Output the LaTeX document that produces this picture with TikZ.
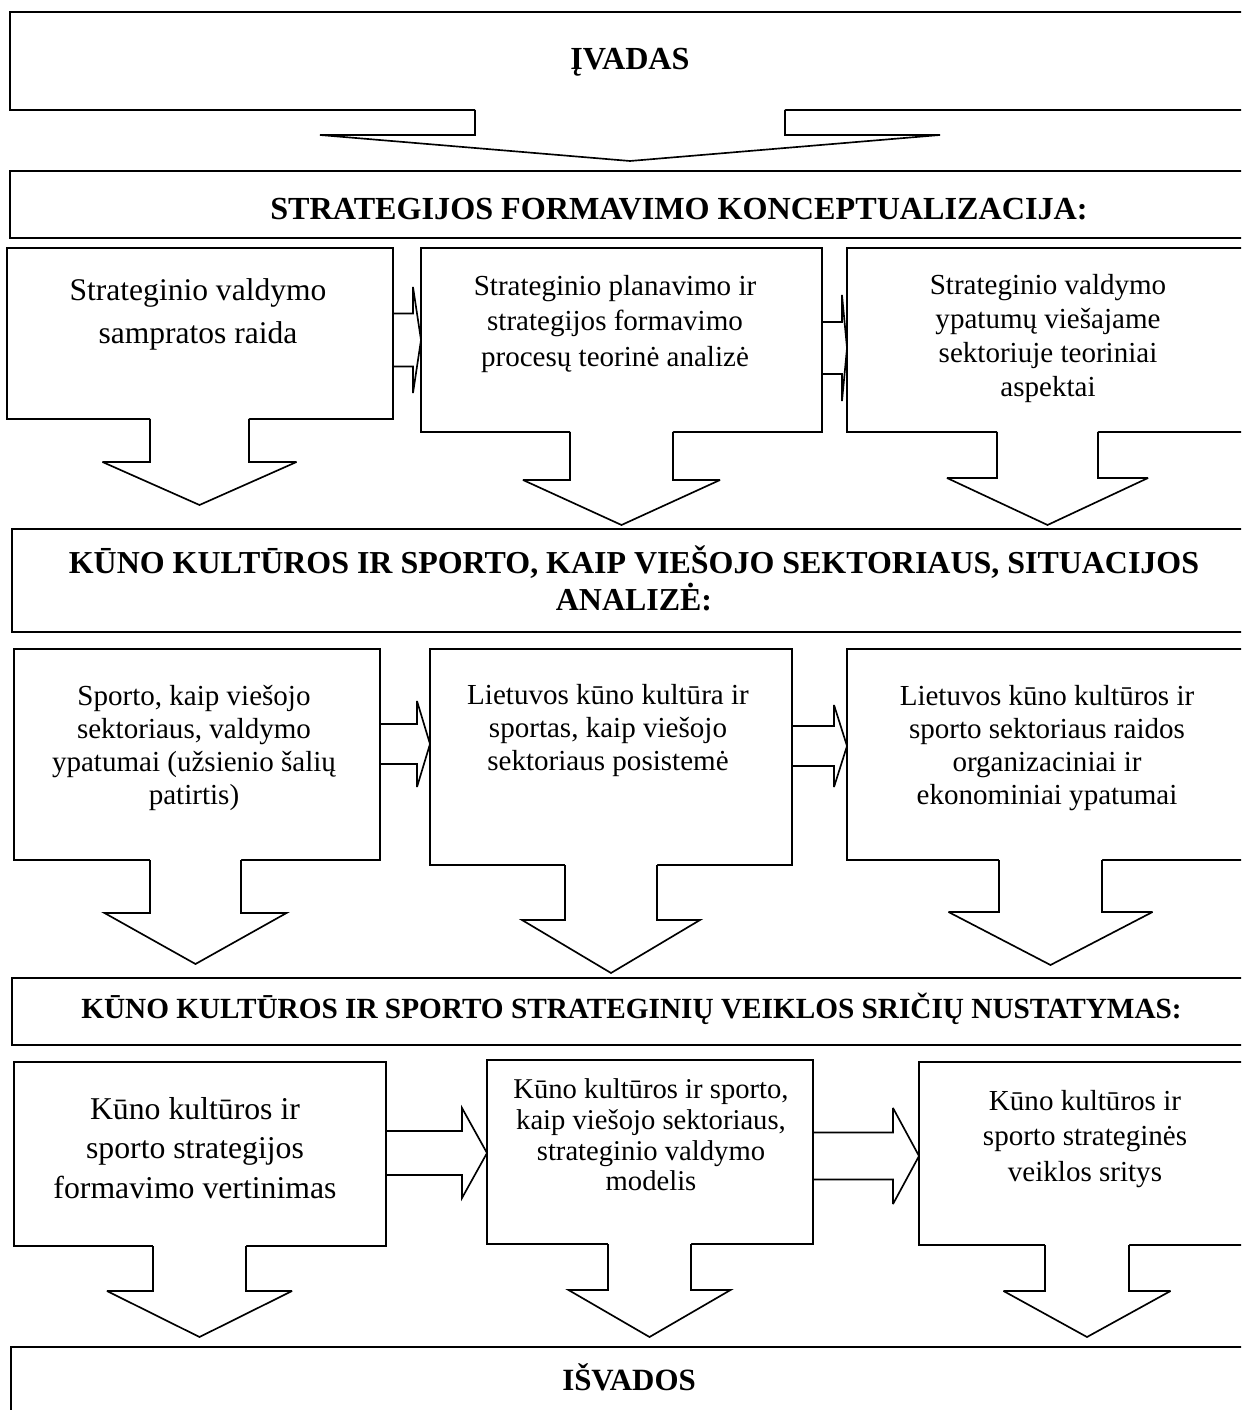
\documentclass[tikz,border=0pt]{standalone}
\usepackage{fontspec}
\setmainfont{Liberation Serif}
\usetikzlibrary{calc,fit}

% Block arrow pointing down out of the bottom edge of a box.
% #1 box, #2 x of the axis, #3 stem half width, #4 head half width,
% #5 stem length, #6 head length
\newcommand\dblock[6]{%
  \coordinate (dbx) at (#2,0);
  \coordinate (dbs) at (dbx |- #1.south);
  \fill[white] ($(dbs)+(-#3,-3)$) -- ($(dbs)+(-#3,#5)$) -- ($(dbs)+(-#4,#5)$)
    -- ($(dbs)+(0,#5+#6)$) -- ($(dbs)+(#4,#5)$) -- ($(dbs)+(#3,#5)$)
    -- ($(dbs)+(#3,-3)$) -- cycle;
  \draw[blk] ($(dbs)+(-#3,0)$) -- ($(dbs)+(-#3,#5)$) -- ($(dbs)+(-#4,#5)$)
    -- ($(dbs)+(0,#5+#6)$) -- ($(dbs)+(#4,#5)$) -- ($(dbs)+(#3,#5)$)
    -- ($(dbs)+(#3,0)$);
}

% Block arrow from the right edge of one box to the left edge of the next.
% #1 from box, #2 to box, #3 y of the axis, #4 stem half width,
% #5 head half width, #6 head length
\newcommand\rblock[6]{%
  \coordinate (rbm) at (0,#3);
  \coordinate (rb1) at (rbm -| #1.east);
  \coordinate (rb2) at (rbm -| #2.west);
  \draw[blk] ($(rb1)+(0,-#4)$) -- ($(rb2)+(-#6,-#4)$) -- ($(rb2)+(-#6,-#5)$)
    -- (rb2) -- ($(rb2)+(-#6,#5)$) -- ($(rb2)+(-#6,#4)$) -- ($(rb1)+(0,#4)$);
}

\begin{document}
\begin{tikzpicture}[x=0.016933cm, y=-0.016933cm,
  box/.style={draw, line width=0.8pt, rectangle, inner sep=0pt, outer sep=0pt, fill=white},
  headbox/.style={box, line width=1.1pt},
  blk/.style={line width=0.8pt, line join=miter, miter limit=4},
  txt/.style={align=center, inner sep=0pt},
  htxt/.style={txt, font=\fontsize{15.5}{18}\selectfont\bfseries},
]
\useasboundingbox (0,0) rectangle (1241,1410);
\clip (0,0) rectangle (1241,1410);
\fill[white] (0,0) rectangle (1241,1410);

% section headers
\node[headbox, fit={(10,12) (1250,110)}] (intro) {};
\node[headbox, fit={(10,171) (1250,238)}] (concept) {};
\node[headbox, fit={(12,529) (1250,632)}] (situation) {};
\node[headbox, fit={(12,978) (1250,1045)}] (areas) {};
\node[headbox, fit={(11,1347) (1250,1430)}] (concl) {};

% first row
\node[box, fit={(7,248) (393,419)}] (a1) {};
\node[box, fit={(421,248) (822,432)}] (a2) {};
\node[box, fit={(847,248) (1250,432)}] (a3) {};
% second row
\node[box, fit={(14,649) (380,860)}] (b1) {};
\node[box, fit={(430,649) (792,865)}] (b2) {};
\node[box, fit={(847,649) (1250,860)}] (b3) {};
% third row
\node[box, fit={(14,1062) (386,1246)}] (c1) {};
\node[box, fit={(487,1060) (813,1244)}] (c2) {};
\node[box, fit={(919,1062) (1250,1245)}] (c3) {};

% arrows between boxes of a row
\rblock{a1}{a2}{340}{26.5}{53}{8}
\rblock{a2}{a3}{348}{26}{53}{5}
\rblock{b1}{b2}{744}{20}{43}{13}
\rblock{b2}{b3}{746}{20}{41}{13}
\rblock{c1}{c2}{1153}{22}{45}{25}
\rblock{c2}{c3}{1156}{23.5}{48}{26}

% arrows down to the next header
\dblock{intro}{630}{155}{310}{25}{26}
\dblock{a1}{199.5}{49.5}{97}{43}{43}
\dblock{a2}{621.5}{51.5}{98.5}{48}{45}
\dblock{a3}{1047.5}{50.5}{100.5}{46}{47}
\dblock{b1}{195.5}{45.5}{91}{53}{51}
\dblock{b2}{611}{46}{89}{55}{53}
\dblock{b3}{1050.5}{51.5}{102}{52}{53}
\dblock{c1}{199.5}{46.5}{92.5}{45}{46}
\dblock{c2}{649.5}{41.5}{81}{46}{47}
\dblock{c3}{1087}{42}{83.5}{46}{46}

% header texts
\node[htxt] (tintro) at (630,62) {ĮVADAS};
\node[htxt] (tconcept) at (679,209) {STRATEGIJOS FORMAVIMO KONCEPTUALIZACIJA:};
\node[htxt, font=\fontsize{15.4}{17.8}\selectfont\bfseries] (tsituation) at (634,578)
  {KŪNO KULTŪROS IR SPORTO, KAIP VIEŠOJO SEKTORIAUS, SITUACIJOS\\ANALIZĖ:};
\node[htxt, font=\fontsize{14.1}{17}\selectfont\bfseries] (tareas) at (631.5,1009)
  {KŪNO KULTŪROS IR SPORTO STRATEGINIŲ VEIKLOS SRIČIŲ NUSTATYMAS:};
\node[htxt, font=\fontsize{14.9}{17}\selectfont\bfseries] (tconcl) at (629,1377) {IŠVADOS};

% box texts
\node[txt, font=\fontsize{15.2}{20.7}\selectfont] (ta1) at (198,314.5)
  {Strateginio valdymo\\sampratos raida};
\node[txt, font=\fontsize{14}{17.1}\selectfont] (ta2) at (615,324)
  {Strateginio planavimo ir\\strategijos formavimo\\procesų teorinė analizė};
\node[txt, font=\fontsize{14}{16.5}\selectfont] (ta3) at (1048,338.5)
  {Strateginio valdymo\\ypatumų viešajame\\sektoriuje teoriniai\\aspektai};
\node[txt, font=\fontsize{14}{15.9}\selectfont] (tb1) at (194,748)
  {Sporto, kaip viešojo\\sektoriaus, valdymo\\ypatumai (užsienio šalių\\patirtis)};
\node[txt, font=\fontsize{14}{15.9}\selectfont] (tb2) at (608,731)
  {Lietuvos kūno kultūra ir\\sportas, kaip viešojo\\sektoriaus posistemė};
\node[txt, font=\fontsize{14}{15.9}\selectfont] (tb3) at (1047,748)
  {Lietuvos kūno kultūros ir\\sporto sektoriaus raidos\\organizaciniai ir\\ekonominiai ypatumai};
\node[txt, font=\fontsize{15.3}{19}\selectfont] (tc1) at (195,1148)
  {Kūno kultūros ir\\sporto strategijos\\formavimo vertinimas};
\node[txt, font=\fontsize{13.8}{14.8}\selectfont] (tc2) at (651,1135)
  {Kūno kultūros ir sporto,\\kaip viešojo sektoriaus,\\strateginio valdymo\\modelis};
\node[txt, font=\fontsize{14}{16.9}\selectfont] (tc3) at (1085,1139)
  {Kūno kultūros ir\\sporto strateginės\\veiklos sritys};
\end{tikzpicture}
\end{document}
